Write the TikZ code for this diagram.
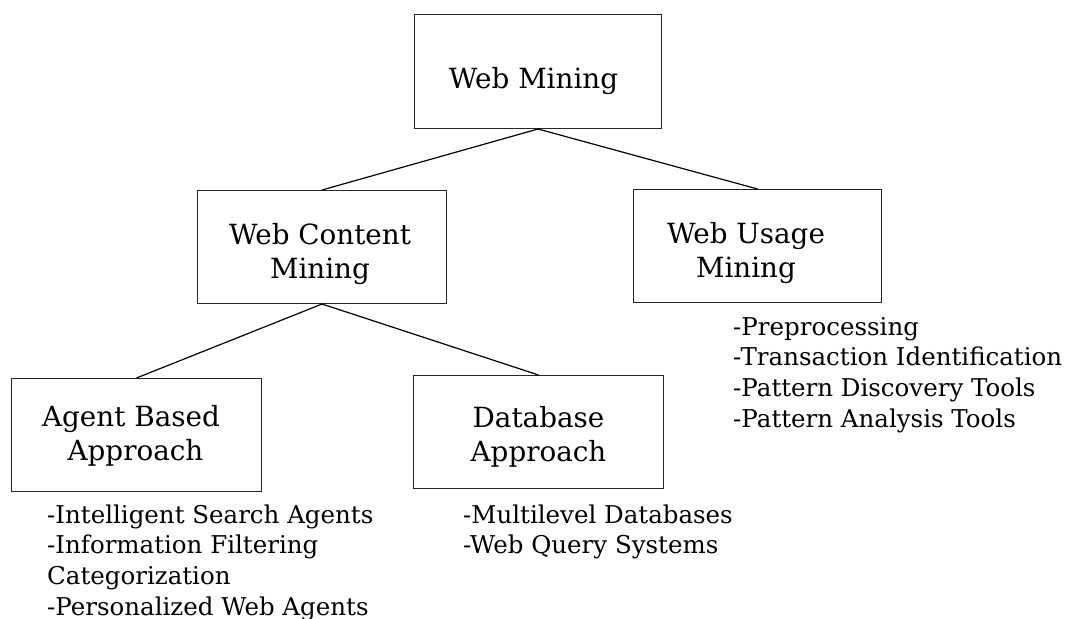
\documentclass[tikz,border=0pt]{standalone}
\usepackage{fontspec}
\setmainfont{DejaVu Serif}
\begin{document}
\begin{tikzpicture}[x=1pt,y=-1pt,
  box/.style={draw=black!85, line width=1pt, minimum width=248pt,
    minimum height=113pt, inner sep=0pt, anchor=north west},
  title/.style={font=\fontsize{27.8}{34}\selectfont, align=center,
    inner sep=0pt, anchor=north},
  items/.style={font=\fontsize{24.5}{30.8}\selectfont, align=left,
    inner sep=0pt, anchor=north west},
  conn/.style={draw=black, line width=1.2pt}]
\useasboundingbox (0,0) rectangle (1075,618);

% boxes
\node[box, minimum width=247pt, minimum height=114pt] (wm) at (414,14) {};
\node[box, minimum width=249pt] (wc) at (197,190) {};
\node[box] (wu) at (633,189) {};
\node[box, minimum width=250pt] (ab) at (11,378) {};
\node[box, minimum width=250pt] (db) at (413,375) {};

% box titles (the strut fixes the first baseline at 23.8pt below the top)
\node[title] (wmt) at (533.5,64.2) {\strut Web Mining};
\node[title] (wct) at (320,220.2) {\strut Web Content\\Mining};
\node[title] (wut) at (746,219.7) {\strut Web Usage\\Mining};
\node[title] (abt) at (135.5,402.7) {\strut Agent Based\kern9pt\\Approach};
\node[title] (dbt) at (538.5,403.4) {\strut Database\\Approach};

% connectors
\draw[conn] (wm.south) -- (wc.north);
\draw[conn] (wm.south) -- (wu.north);
\draw[conn] (wc.south) -- (ab.north);
\draw[conn] (wc.south) -- (db.north);

% item lists
\node[items] (abl) at (47,501.4) {\strut-Intelligent Search Agents\\-Information Filtering\\Categorization\\-Personalized Web Agents};
\node[items] (dbl) at (463,501.4) {\strut-Multilevel Databases\\-Web Query Systems};
\node[items] (wul) at (733,313.4) {\strut-Preprocessing\\-Transaction Identification\\-Pattern Discovery Tools\\-Pattern Analysis Tools};
\end{tikzpicture}
\end{document}
